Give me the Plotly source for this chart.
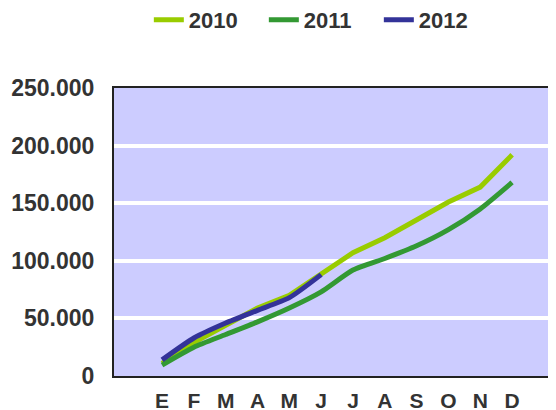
import plotly.graph_objects as go

months = ["E", "F", "M", "A", "M", "J", "J", "A", "S", "O", "N", "D"]
s2010 = [11000, 29000, 44000, 59000, 70000, 89000, 107000, 120000, 136000, 151000, 164000, 192000]
s2011 = [9500, 25000, 36000, 47000, 59000, 73000, 92000, 102000, 113000, 127000, 145000, 168000]
s2012 = [14000, 33000, 46000, 57000, 68000, 88000]
yticks = [0, 50000, 100000, 150000, 200000, 250000]

x_idx = list(range(len(months)))

fig = go.Figure()
fig.add_trace(go.Scatter(x=x_idx, y=s2010, name="2010", mode="lines",
                         line=dict(color="#99cc00", width=5)))
fig.add_trace(go.Scatter(x=x_idx, y=s2011, name="2011", mode="lines",
                         line=dict(color="#339933", width=5, shape="spline", smoothing=0.6)))
fig.add_trace(go.Scatter(x=x_idx[:len(s2012)], y=s2012, name="2012", mode="lines",
                         line=dict(color="#333399", width=5, shape="spline", smoothing=0.6)))

fam = "Liberation Sans, Arial, sans-serif"
ytickfont = dict(family=fam, size=23, color="#333333", weight="bold")
xtickfont = dict(family=fam, size=21, color="#333333", weight="bold")

fig.update_layout(
    width=548, height=402,
    margin=dict(l=106, r=0, t=80, b=34),
    paper_bgcolor="white",
    plot_bgcolor="#ccccff",
    separators=",.",
    showlegend=True,
    legend=dict(orientation="h", xref="container", yref="container",
                x=0.257, xanchor="left", y=0.97, yanchor="middle",
                font=dict(family=fam, size=22, color="#333333", weight="bold"),
                entrywidth=70, entrywidthmode="pixels",
                tracegroupgap=0, bgcolor="rgba(0,0,0,0)"),
    xaxis=dict(range=[-1.51, 12.38], tickmode="array", tickvals=x_idx, ticktext=months,
               showgrid=False, zeroline=False, showline=True, mirror=True,
               linecolor="#222222", linewidth=2, ticks="", tickfont=xtickfont,
               ticklabelstandoff=5, automargin=False, fixedrange=True),
    yaxis=dict(range=[0, 250000], tickmode="array", tickvals=yticks, tickformat=",d",
               showgrid=True, gridcolor="white", gridwidth=4, zeroline=False,
               showline=True, linecolor="#222222", linewidth=2, ticks="",
               tickfont=ytickfont, ticklabelstandoff=13, automargin=False, fixedrange=True),
)

fig.write_html("out.html")
